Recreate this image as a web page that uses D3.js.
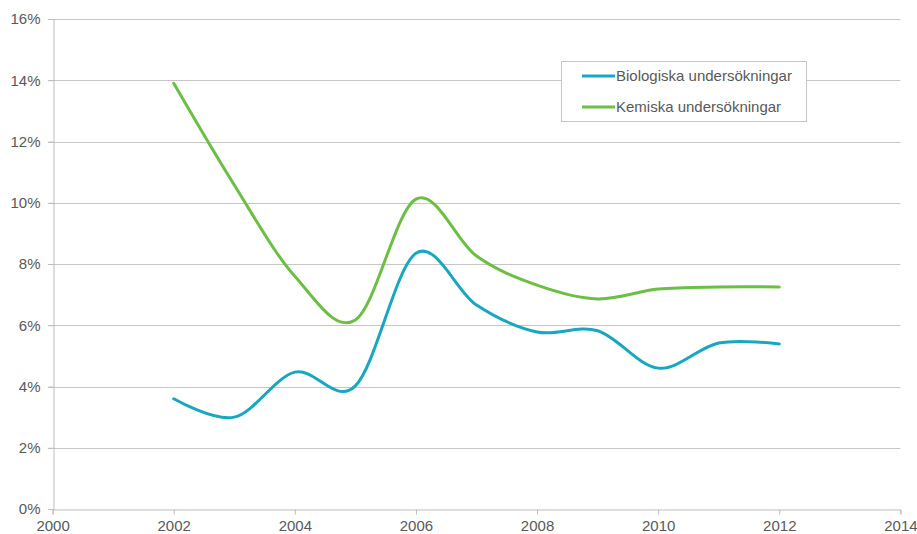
<!DOCTYPE html>
<html><head><meta charset="utf-8">
<script src="https://cdn.jsdelivr.net/npm/d3@7"></script>
<style>
html,body{margin:0;padding:0;background:#fff;}
text{font-family:Arial,"Liberation Sans",sans-serif;fill:#595959;}
</style></head>
<body><svg id="c" width="917" height="534"></svg>
<script>
const years = [2002,2003,2004,2005,2006,2007,2008,2009,2010,2011,2012];
const biologiska = [3.6,3.0,4.47,4.02,8.35,6.66,5.78,5.82,4.6,5.42,5.39];
const kemiska = [13.9,10.58,7.6,6.17,10.12,8.26,7.31,6.86,7.18,7.25,7.25];
const seriesNames = ["Biologiska undersökningar","Kemiska undersökningar"];
const seriesColors = ["#17a7c0","#6cbf44"];
const xTicks = [2000,2002,2004,2006,2008,2010,2012,2014];
const yTicks = [0,2,4,6,8,10,12,14,16];

const svg = d3.select("#c");
const x = d3.scaleLinear().domain([2000,2014]).range([52.6,900.4]);
const y = d3.scaleLinear().domain([0,16]).range([509,19]);

// gridlines
svg.append("g").selectAll("line").data(yTicks.filter(d=>d>0)).join("line")
  .attr("x1",48).attr("x2",x(2014)).attr("y1",d=>Math.round(y(d))+0.5).attr("y2",d=>Math.round(y(d))+0.5)
  .attr("stroke","#c6c6c6").attr("stroke-width",1);
// y axis
const yAxis = svg.append("g").attr("transform",`translate(${Math.round(x(2000))+0.5},0)`)
  .call(d3.axisLeft(y).tickValues(yTicks).tickSize(5).tickPadding(9).tickFormat(d=>d+"%"));
// x axis
const xAxis = svg.append("g").attr("transform",`translate(0,${Math.round(y(0))+0.5})`)
  .call(d3.axisBottom(x).tickValues(xTicks).tickSize(5).tickPadding(6).tickFormat(d3.format("d")));
[yAxis,xAxis].forEach(a=>{
  a.select(".domain").attr("stroke","#bdbdbd");
  a.selectAll(".tick line").attr("stroke","#bdbdbd");
  a.selectAll("text").attr("font-size",15).attr("fill","#595959").style("font-family","Arial, 'Liberation Sans', sans-serif");
});
yAxis.selectAll("text").attr("x",-13);

const line = d3.line().x((d,i)=>x(years[i])).y(d=>y(d)).curve(d3.curveCardinal.tension(0));
[biologiska,kemiska].forEach((s,k)=>{
  svg.append("path").datum(s).attr("d",line).attr("fill","none")
    .attr("stroke",seriesColors[k]).attr("stroke-width",3).attr("stroke-linecap","round");
});

// legend
const lg = svg.append("g");
lg.append("rect").attr("x",561.5).attr("y",61.5).attr("width",245).attr("height",60)
  .attr("fill","#fff").attr("stroke","#c6c6c6");
seriesNames.forEach((n,i)=>{
  const ly = 76 + i*31;
  lg.append("line").attr("x1",582).attr("x2",615).attr("y1",ly).attr("y2",ly)
    .attr("stroke",seriesColors[i]).attr("stroke-width",3);
  lg.append("text").attr("x",616).attr("y",ly+5).attr("font-size",15).text(n);
});
</script></body></html>
